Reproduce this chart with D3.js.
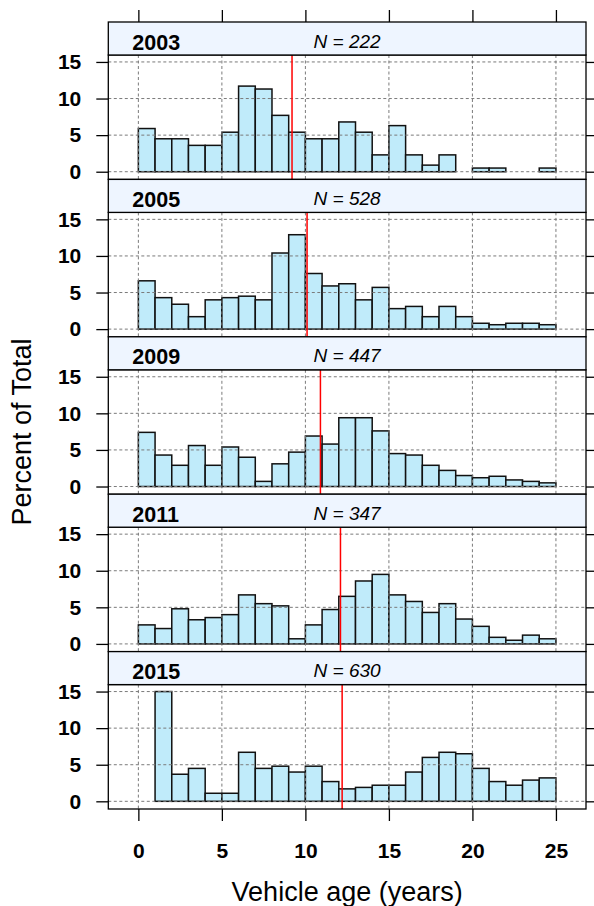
<!DOCTYPE html>
<html>
<head>
<meta charset="utf-8">
<script src="https://cdn.jsdelivr.net/npm/d3@7"></script>
<style>
  body { margin: 0; background: #fff; }
  svg text { font-family: "Liberation Sans", Arial, sans-serif; fill: #000; }
</style>
</head>
<body>
<svg id="chart" width="594" height="906"></svg>
<script>
// data (percent of total per 1-year bin)
var years = ['2003', '2005', '2009', '2011', '2015'];
var nObs = [222, 528, 447, 347, 630];
var medianAge = [9.2, 10.1, 10.9, 12.1, 12.2];
var binEdges = [0,1,2,3,4,5,6,7,8,9,10,11,12,13,14,15,16,17,18,19,20,21,22,23,24,25];
var pct2003 = [5.9,4.5,4.5,3.6,3.6,5.4,11.7,11.3,7.7,5.4,4.5,4.5,6.8,5.4,2.3,6.3,2.3,0.9,2.3,0,0.5,0.5,0,0,0.5];
var pct2005 = [6.6,4.3,3.4,1.7,4.0,4.3,4.5,4.0,10.4,12.9,7.6,5.9,6.2,4.0,5.7,2.8,3.1,1.7,3.1,1.7,0.8,0.6,0.8,0.8,0.6];
var pct2009 = [7.4,4.3,2.9,5.6,2.9,5.4,4.0,0.7,3.1,4.7,6.9,5.8,9.4,9.4,7.6,4.5,4.3,2.9,2.2,1.5,1.2,1.4,0.9,0.7,0.5];
var pct2011 = [2.6,2.1,4.8,3.3,3.6,4.0,6.7,5.5,5.2,0.7,2.6,4.7,6.5,8.6,9.5,6.7,5.8,4.3,5.5,3.4,2.4,0.9,0.5,1.2,0.7];
var pct2015 = [0,15.0,3.7,4.5,1.1,1.1,6.7,4.5,4.8,4.0,4.8,2.7,1.7,1.9,2.2,2.2,4.0,6.0,6.7,6.5,4.5,2.7,2.2,2.9,3.2];
var pctByYear = [pct2003, pct2005, pct2009, pct2011, pct2015];
var xTicks = [0, 5, 10, 15, 20, 25];
var yTicks = [0, 5, 10, 15];

var svg = d3.select('#chart');
var left = 108.3, right = 586, top0 = 22;
var stripH = 33, plotH = 124.4, panelH = stripH + plotH;

var x = d3.scaleLinear().domain([-1.8, 26.8]).range([left, right]);
var y = d3.scaleLinear().domain([-1.05, 15.95]).range([plotH, 0]);

var gridCol = '#7a7a7a';
var fontFam = '"Liberation Sans", Arial, sans-serif';

years.forEach(function(yr, i) {
    var py = top0 + i * panelH;
    var g = svg.append('g').attr('transform', 'translate(0,' + (py + stripH) + ')');
    var bins = pctByYear[i].map(function(v, k) {
        return {x0: binEdges[k], x1: binEdges[k + 1], v: v};
    });

    g.append('rect')
        .attr('x', left).attr('y', 0)
        .attr('width', right - left).attr('height', plotH)
        .attr('fill', '#fff');

    g.selectAll('.bar')
        .data(bins.filter(function(d) { return d.v > 0; }))
        .enter().append('rect')
        .attr('class', 'bar')
        .attr('x', function(d) { return x(d.x0); })
        .attr('y', function(d) { return y(d.v); })
        .attr('width', function(d) { return x(d.x1) - x(d.x0); })
        .attr('height', function(d) { return y(0) - y(d.v); })
        .attr('fill', '#c0ebfa')
        .attr('stroke', '#111')
        .attr('stroke-width', 1.5);

    // grid over the bars
    g.selectAll('.vgrid').data(xTicks).enter().append('line')
        .attr('x1', function(d) { return x(d); }).attr('x2', function(d) { return x(d); })
        .attr('y1', 0).attr('y2', plotH)
        .attr('stroke', gridCol).attr('stroke-width', 1)
        .attr('stroke-dasharray', '3,2.5');
    g.selectAll('.hgrid').data(yTicks).enter().append('line')
        .attr('x1', left).attr('x2', right)
        .attr('y1', function(d) { return y(d); }).attr('y2', function(d) { return y(d); })
        .attr('stroke', gridCol).attr('stroke-width', 1)
        .attr('stroke-dasharray', '3,2.5');

    g.append('line')
        .attr('x1', x(medianAge[i])).attr('x2', x(medianAge[i]))
        .attr('y1', 0).attr('y2', plotH)
        .attr('stroke', '#ff0000').attr('stroke-width', 1.5);

    // axes
    var ya = g.append('g').attr('transform', 'translate(' + left + ',0)')
        .call(d3.axisLeft(y).tickValues(yTicks).tickSize(12).tickPadding(15));
    ya.select('.domain').remove();
    ya.selectAll('line').attr('stroke', '#000').attr('stroke-width', 1.3);
    ya.selectAll('text').attr('font-size', 21).attr('font-weight', 'bold')
        .attr('font-family', fontFam).attr('fill', '#000');

    var yr2 = g.append('g').attr('transform', 'translate(' + right + ',0)')
        .call(d3.axisRight(y).tickValues(yTicks).tickSize(12).tickFormat(''));
    yr2.select('.domain').remove();
    yr2.selectAll('line').attr('stroke', '#000').attr('stroke-width', 1.3);

    if (i === years.length - 1) {
        var xa = g.append('g').attr('transform', 'translate(0,' + plotH + ')')
            .call(d3.axisBottom(x).tickValues(xTicks).tickSize(12).tickPadding(22));
        xa.select('.domain').remove();
        xa.selectAll('line').attr('stroke', '#000').attr('stroke-width', 1.3);
        xa.selectAll('text').attr('font-size', 21).attr('font-weight', 'bold')
            .attr('font-family', fontFam).attr('fill', '#000');
    }

    g.append('rect')
        .attr('x', left).attr('y', 0)
        .attr('width', right - left).attr('height', plotH)
        .attr('fill', 'none').attr('stroke', '#000').attr('stroke-width', 1.3);

    // strip
    var s = svg.append('g').attr('transform', 'translate(0,' + py + ')');
    s.append('rect')
        .attr('x', left).attr('y', 0)
        .attr('width', right - left).attr('height', stripH)
        .attr('fill', '#eef5ff').attr('stroke', '#000').attr('stroke-width', 1.3);
    s.append('text')
        .attr('x', left + 24).attr('y', 27.5)
        .attr('font-size', 21.5).attr('font-weight', 'bold')
        .text(yr);
    var nt = s.append('text')
        .attr('x', (left + right) / 2).attr('y', 25.5)
        .attr('text-anchor', 'middle')
        .attr('font-size', 19).attr('font-style', 'italic')
        .attr('fill', '#222');
    nt.append('tspan').text('N');
    nt.append('tspan').text(' = ' + nObs[i]);

    if (i === 0) {
        var xt = s.append('g')
            .call(d3.axisTop(x).tickValues(xTicks).tickSize(12).tickFormat(''));
        xt.select('.domain').remove();
        xt.selectAll('line').attr('stroke', '#000').attr('stroke-width', 1.3);
    }
});

svg.append('text')
    .attr('transform', 'translate(31,432) rotate(-90)')
    .attr('text-anchor', 'middle')
    .attr('font-size', 27)
    .text('Percent of Total');

svg.append('text')
    .attr('x', (left + right) / 2).attr('y', 901)
    .attr('text-anchor', 'middle')
    .attr('font-size', 27)
    .text('Vehicle age (years)');
</script>
</body>
</html>
